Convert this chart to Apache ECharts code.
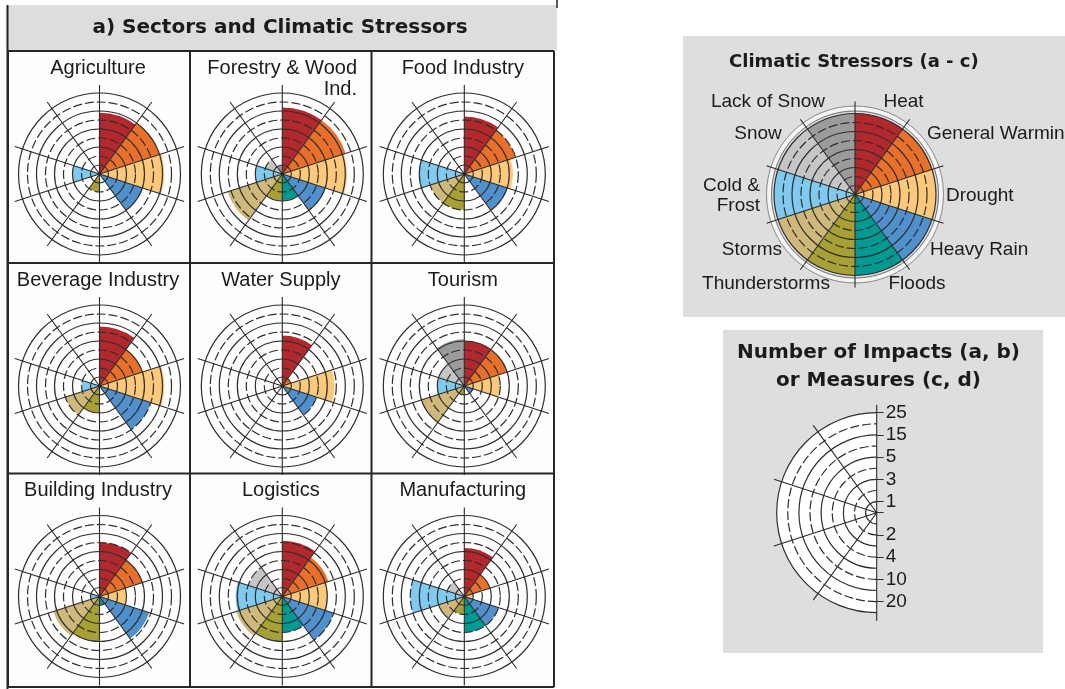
<!DOCTYPE html>
<html>
<head>
<meta charset="utf-8">
<script src="https://cdn.jsdelivr.net/npm/echarts@6/dist/echarts.min.js"></script>
<style>
  html, body { margin: 0; padding: 0; background: #ffffff; }
  #chart { width: 1065px; height: 689px; }
</style>
</head>
<body>
<div id="chart"></div>
<script>
// Climatic stressors, in clockwise order starting at 12 o'clock
const stressors = ['Heat', 'General Warming', 'Drought', 'Heavy Rain', 'Floods',
  'Thunderstorms', 'Storms', 'Cold & Frost', 'Snow', 'Lack of Snow'];
const sectorNames = ['Agriculture', 'Forestry & Wood\nInd.', 'Food Industry',
  'Beverage Industry', 'Water Supply', 'Tourism',
  'Building Industry', 'Logistics', 'Manufacturing'];

// Number of impacts per stressor (same order as `stressors`)
const agriculture   = [14, 15, 16, 5, 0, 2, 0, 3, 0, 0];
const forestry      = [17, 17, 16, 5, 3, 3, 12, 3, 2, 1];
const foodIndustry  = [12, 10, 7, 5, 0, 4, 4, 5, 0, 0];
const beverage      = [13, 5, 16, 10, 0, 3, 4, 2, 0, 0];
const waterSupply   = [8, 1, 9, 4, 0, 0, 0, 0, 0, 0];
const tourism       = [5, 5, 4, 1, 0, 1, 5, 3, 3, 6];
const building      = [10, 5, 3, 9, 1, 5, 7, 1, 0, 0];
const logistics     = [11, 7, 5, 10, 4, 5, 7, 6, 4, 0];
const manufacturing = [7, 3, 1, 4, 4, 2, 3, 10, 2, 0];
const keyValues     = [25, 25, 25, 25, 25, 25, 25, 25, 25, 25];

// Radial scale: rings sit at these values and are evenly spaced
const ringValues = [0, 1, 2, 3, 4, 5, 10, 15, 20, 25];
const upperTickLabels = ['1', '3', '5', '15', '25'];
const lowerTickLabels = ['', '2', '4', '10', '20'];

const stressorColors = ['#b2282d', '#e9702b', '#fcc87a', '#4f90cd', '#009a92',
  '#a7a034', '#ceb97b', '#80c9ef', '#c6c6c6', '#9b9b9b'];

// position of a value on the ring scale (0 .. 9)
function ringPos(v) {
  for (let i = 1; i < ringValues.length; i++) {
    if (v <= ringValues[i]) {
      const a = ringValues[i - 1], b = ringValues[i];
      return i - 1 + (v - a) / (b - a);
    }
  }
  return ringValues.length - 1;
}

const polar = [], angleAxis = [], radiusAxis = [], series = [], graphic = [];

function addPolar(center, radius, ang, rad) {
  const i = polar.length;
  polar.push({ center: center, radius: radius });
  const a = Object.assign({ polarIndex: i, startAngle: 90, show: false }, ang || {});
  if (!a.type) { a.type = 'value'; a.min = 0; a.max = 360; }
  const r = Object.assign({ polarIndex: i, show: false }, rad || {});
  if (!r.type) { r.type = 'value'; if (r.min == null) r.min = 0; if (r.max == null) r.max = 1; }
  angleAxis.push(a);
  radiusAxis.push(r);
  return i;
}

const RING_COLOR = '#2e2e2e';
function ringAxis(lineType, extra) {
  return Object.assign({
    show: true, min: 0, max: 4, interval: 1,
    axisLine: { show: false }, axisTick: { show: false }, axisLabel: { show: false },
    splitLine: { show: true, lineStyle: { color: RING_COLOR, width: 1.2, type: lineType } },
    z: 5
  }, extra || {});
}

function spokeAxis(extra) {
  return Object.assign({
    type: 'category', data: stressors, startAngle: 90, show: true,
    axisLine: { show: false }, axisTick: { show: false }, axisLabel: { show: false },
    splitLine: { show: true, lineStyle: { color: '#2a2a2a', width: 1.1 } },
    z: 6
  }, extra || {});
}

// one rose: bars, odd rings (solid), even rings (dashed), sector spokes
function addRose(cx, cy, R, values, spokeR) {
  const bp = addPolar([cx, cy], R,
    { type: 'category', data: stressors, startAngle: 90, show: false },
    { type: 'value', min: 0, max: ringValues.length - 1, show: false });
  series.push({
    type: 'bar', coordinateSystem: 'polar', polarIndex: bp,
    barCategoryGap: '0%', silent: true, z: 2,
    data: values.map((v, i) => ({ value: ringPos(v), itemStyle: { color: stressorColors[i] } }))
  });
  addPolar([cx, cy], [R / 9, R], null, ringAxis('solid'));
  addPolar([cx, cy], 8 * R / 9, null, ringAxis([9, 3]));
  addPolar([cx, cy], spokeR, spokeAxis(), null);
}

// ---------- panel a) ----------
const TEXT = '#1b1b1b';
const BOLD_FONT = 'DejaVu Sans';
const REG_FONT = 'Liberation Sans, Arial, sans-serif';

graphic.push({ type: 'rect', z: -5, shape: { x: 8, y: 5, width: 549, height: 46 }, style: { fill: '#dddddd' } });
graphic.push({ type: 'line', z: 20, shape: { x1: 7.5, y1: 5, x2: 7.5, y2: 689 }, style: { stroke: '#222', lineWidth: 2 } });
graphic.push({ type: 'line', z: 20, shape: { x1: 557, y1: 0, x2: 557, y2: 8 }, style: { stroke: '#222', lineWidth: 1.5 } });
graphic.push({ type: 'text', z: 20, x: 280, y: 28,
  style: { text: 'a) Sectors and Climatic Stressors', fill: TEXT, font: 'bold 20px ' + BOLD_FONT, align: 'center', verticalAlign: 'middle' } });

const gx = [8, 190, 371.5, 554];
const gy = [51, 263, 473.5, 687];
graphic.push({ type: 'rect', z: -4, shape: { x: gx[0], y: gy[0], width: gx[3] - gx[0], height: gy[3] - gy[0] }, style: { fill: '#fdfdfd' } });
for (let i = 0; i < gx.length; i++) {
  graphic.push({ type: 'line', z: 20, shape: { x1: gx[i], y1: gy[0], x2: gx[i], y2: gy[3] }, style: { stroke: '#262626', lineWidth: 2 } });
}
for (let j = 0; j < gy.length; j++) {
  graphic.push({ type: 'line', z: 20, shape: { x1: gx[0], y1: gy[j], x2: gx[3], y2: gy[j] }, style: { stroke: '#262626', lineWidth: 2 } });
}

const sectorData = [agriculture, forestry, foodIndustry, beverage, waterSupply, tourism, building, logistics, manufacturing];
const colX = [99.5, 282.3, 464.3];
const rowY = [174, 386, 596.5];
const titleY = [68, 280, 490.5];
const R = 81;
sectorData.forEach((vals, k) => {
  const c = k % 3, r = Math.floor(k / 3);
  addRose(colX[c], rowY[r], R, vals, 89);
  if (sectorNames[k].indexOf('\n') >= 0) {
    graphic.push({ type: 'text', z: 20, x: 357, y: titleY[r] - 10.5,
      style: { text: sectorNames[k], fill: TEXT, font: '20px ' + REG_FONT, align: 'right', verticalAlign: 'top', lineHeight: 21 } });
  } else {
    graphic.push({ type: 'text', z: 20, x: colX[c] - 1.5, y: titleY[r],
      style: { text: sectorNames[k], fill: TEXT, font: '20px ' + REG_FONT, align: 'center', verticalAlign: 'middle' } });
  }
});

// ---------- key: climatic stressors ----------
graphic.push({ type: 'rect', z: -5, shape: { x: 683, y: 36, width: 390, height: 281 }, style: { fill: '#dedede' } });
graphic.push({ type: 'text', z: 20, x: 729, y: 62,
  style: { text: 'Climatic Stressors (a - c)', fill: TEXT, font: 'bold 18px ' + BOLD_FONT, align: 'left', verticalAlign: 'middle' } });

const kc = [855, 194.5];
const outerRing = (color, width) => ({ show: true, axisLine: { show: true, lineStyle: { color: color, width: width } }, axisTick: { show: false }, axisLabel: { show: false }, splitLine: { show: false }, z: 1 });
addPolar(kc, 86, outerRing('#f4f4f4', 4));
addPolar(kc, 83.5, outerRing('#707070', 1));
addPolar(kc, 88.5, outerRing('#8c8c8c', 1));
addRose(kc[0], kc[1], R, keyValues, 93);

const keyLabels = [
  { t: stressors[9], x: 768, y: 102, a: 'center' },
  { t: stressors[0], x: 903.5, y: 102, a: 'center' },
  { t: stressors[1], x: 927, y: 134, a: 'left' },
  { t: stressors[8], x: 758, y: 134, a: 'center' },
  { t: 'Cold &\nFrost', x: 760, y: 196, a: 'right' },
  { t: stressors[2], x: 946, y: 196, a: 'left' },
  { t: stressors[6], x: 782, y: 250, a: 'right' },
  { t: stressors[3], x: 930, y: 250, a: 'left' },
  { t: stressors[5], x: 766, y: 284, a: 'center' },
  { t: stressors[4], x: 917, y: 284, a: 'center' }
];
keyLabels.forEach(l => {
  graphic.push({ type: 'text', z: 20, x: l.x, y: l.y,
    style: { text: l.t, fill: TEXT, font: '19px ' + REG_FONT, align: l.a, verticalAlign: 'middle', lineHeight: 19.5 } });
});

// ---------- key: radial scale ----------
const KEY_BG = '#dedede';
graphic.push({ type: 'rect', z: -5, shape: { x: 723, y: 330, width: 320, height: 323 }, style: { fill: KEY_BG } });
graphic.push({ type: 'text', z: 20, x: 878.5, y: 367,
  style: { text: 'Number of Impacts (a, b)\nor Measures (c, d)', fill: TEXT, font: 'bold 20px ' + BOLD_FONT, align: 'center', verticalAlign: 'middle', lineHeight: 28.5 } });

const hc = [876.7, 512.7], HR = 100;
const upperHalf = { startAngle: 90, endAngle: 270, clockwise: false };
const lowerHalf = { startAngle: 270, endAngle: 90, clockwise: true };
const halfSectors = stressors.slice(5).reverse();
const tickLabelStyle = { show: true, align: 'left', verticalAlign: 'middle', fontSize: 19, color: TEXT, fontFamily: 'Liberation Sans' };
// white disc, its right half masked by the panel background
addPolar(hc, HR, Object.assign({
  type: 'category', data: halfSectors, show: true,
  axisLine: { show: false }, axisTick: { show: false }, axisLabel: { show: false }, splitLine: { show: false },
  splitArea: { show: true, areaStyle: { color: ['#ffffff'] } }, z: 1
}, upperHalf), null);
graphic.push({ type: 'rect', z: 2, shape: { x: hc[0] + 0.5, y: hc[1] - HR - 2, width: HR + 4, height: 2 * HR + 4 }, style: { fill: KEY_BG } });
addPolar(hc, [HR / 9, HR], upperHalf, ringAxis('solid', {
  axisTick: { show: true, length: -7, lineStyle: { color: '#333', width: 1 } },
  axisLabel: Object.assign({ margin: -9, formatter: v => upperTickLabels[Math.round(v)] }, tickLabelStyle)
}));
addPolar(hc, 8 * HR / 9, lowerHalf, ringAxis([9, 3], {
  axisTick: { show: true, length: 7, lineStyle: { color: '#333', width: 1 } },
  axisLabel: Object.assign({ margin: 9, formatter: v => lowerTickLabels[Math.round(v)] }, tickLabelStyle)
}));
addPolar(hc, 108, spokeAxis(Object.assign({ data: halfSectors }, upperHalf)), null);

const chart = echarts.init(document.getElementById('chart'));
chart.setOption({
  animation: false,
  backgroundColor: '#ffffff',
  polar: polar,
  angleAxis: angleAxis,
  radiusAxis: radiusAxis,
  series: series,
  graphic: graphic
});
</script>
</body>
</html>
